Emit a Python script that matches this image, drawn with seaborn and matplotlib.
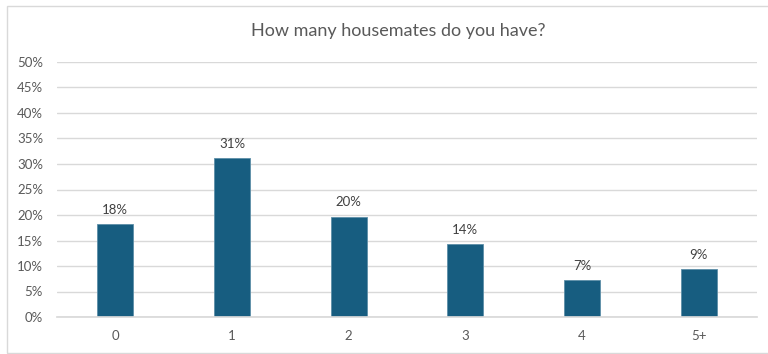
import matplotlib
matplotlib.use("Agg")
import matplotlib.pyplot as plt
import seaborn as sns
import pandas as pd
from matplotlib.patches import Rectangle

categories = ["0", "1", "2", "3", "4", "5+"]
values = [18.2, 31.1, 19.7, 14.3, 7.2, 9.4]
labels = ["18%", "31%", "20%", "14%", "7%", "9%"]
yticks = [0, 5, 10, 15, 20, 25, 30, 35, 40, 45, 50]
title = "How many housemates do you have?"

sns.set_theme(style="white")
plt.rcParams["font.family"] = ["Lato", "DejaVu Sans"]

df = pd.DataFrame({"cat": categories, "val": values})
W, H = 768, 354
fig = plt.figure(figsize=(W / 100, H / 100), dpi=100)
ax = fig.add_axes([57 / W, 1 - 317 / H, (757 - 57) / W, (317 - 62) / H])

sns.barplot(data=df, x="cat", y="val", color="#175d80", saturation=1, width=0.31,
            ax=ax, edgecolor="#5d8fa8", linewidth=0.6)

ax.set_ylim(0, 50)
ax.set_yticks(yticks)
ax.set_yticklabels([f"{t}%" for t in yticks])
ax.set_xlabel("")
ax.set_ylabel("")
ax.yaxis.grid(True, color="#d9d9d9", linewidth=1)
ax.set_axisbelow(True)
for s in ["left", "right", "top"]:
    ax.spines[s].set_visible(False)
ax.spines["bottom"].set_color("#d9d9d9")
ax.tick_params(axis="both", length=0, labelsize=9.5, colors="#595959")
ax.tick_params(axis="y", pad=10)
ax.tick_params(axis="x", pad=9)

for i, (v, lab) in enumerate(zip(values, labels)):
    ax.annotate(lab, (i, v), xytext=(0, 6), textcoords="offset points",
                ha="center", va="bottom", fontsize=9.5, color="#404040")

fig.text(398 / W, 1 - 31 / H, title, ha="center", va="center", fontsize=13, color="#595959")

fig.patches.append(Rectangle((7 / W, 1 - 353 / H), (W + 5) / W, (353 - 6) / H,
                             transform=fig.transFigure, fill=False,
                             edgecolor="#d9d9d9", linewidth=1))

fig.savefig("out.png", dpi=100)
